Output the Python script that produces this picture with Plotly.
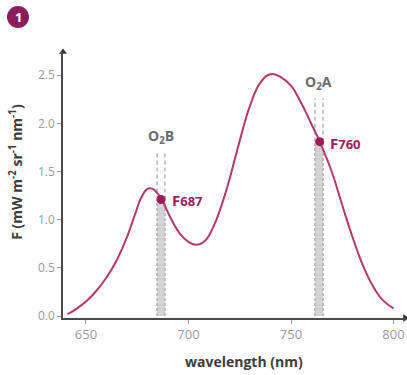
import plotly.graph_objects as go

# Fluorescence spectrum (wavelength in nm, F in mW m-2 sr-1 nm-1)
wavelength = [641, 645, 650, 655, 660, 665, 670, 674, 677, 680, 682.5, 685, 687, 691, 696,
              700, 704, 708, 712, 716, 720, 725, 730, 735, 740, 745, 750, 755, 760,
              764, 770, 775, 780, 785, 790, 795, 800]
flux = [0.02, 0.07, 0.15, 0.26, 0.40, 0.58, 0.82, 1.06, 1.23, 1.32, 1.32, 1.27, 1.21, 1.03, 0.85,
        0.77, 0.74, 0.78, 0.92, 1.14, 1.42, 1.82, 2.18, 2.42, 2.51, 2.48, 2.39, 2.21, 1.99,
        1.81, 1.49, 1.15, 0.82, 0.53, 0.31, 0.16, 0.08]

# Oxygen absorption bands: label, band edges, retrieval point
band_names = ["O<sub>2</sub>B", "O<sub>2</sub>A"]
band_lo = [684.7, 761.7]
band_hi = [688.5, 765.6]
point_wl = [686.6, 764.0]
point_f = [1.21, 1.81]
point_names = ["F", "F"]
point_bands = ["687", "760"]
dash_top = [1.70, 2.26]
name_y = [1.86, 2.42]

x_ticks = [650, 700, 750, 800]
y_ticks = [0.0, 0.5, 1.0, 1.5, 2.0, 2.5]
x_range = [638.8, 805.6]
y_range = [-0.02, 2.74]

CURVE = "#b3386b"
DOT = "#9e1b5b"
BADGE = "#8c1d5b"
AXIS = "#4a4a4a"
TICK = "#9a9a9a"
FONT = "Open Sans"

fig = go.Figure()

shapes = []
annotations = []
for lo, hi, pw, pf, top, nm, ny, pn, pb in zip(band_lo, band_hi, point_wl, point_f, dash_top,
                                               band_names, name_y, point_names, point_bands):
    # grey band under the retrieval point
    shapes.append(dict(type="rect", xref="x", yref="y", x0=lo, x1=hi, y0=0, y1=pf,
                       fillcolor="#d3d3d3", line=dict(width=0), layer="below"))
    for edge in (lo, hi):
        shapes.append(dict(type="line", xref="x", yref="y", x0=edge, x1=edge, y0=0, y1=pf,
                           line=dict(color="#bdbdbd", width=2, dash="3px,2px"), layer="below"))
        shapes.append(dict(type="line", xref="x", yref="y", x0=edge, x1=edge, y0=pf, y1=top,
                           line=dict(color="#b4b4b4", width=1.5, dash="4px,3px"), layer="below"))
    annotations.append(dict(x=(lo + hi) / 2, y=ny, xref="x", yref="y", text=nm, showarrow=False,
                            font=dict(family=FONT, size=14, color="#6a6a6a", weight="bold")))
    annotations.append(dict(x=hi + 2.6, y=pf, xref="x", yref="y",
                            text=f"{pn}<span style='font-size:13px'>{pb}</span>",
                            showarrow=False, xanchor="left", yanchor="middle", yshift=-1,
                            font=dict(family=FONT, size=15, color=DOT, weight="bold")))

fig.add_trace(go.Scatter(x=wavelength, y=flux, mode="lines",
                         line=dict(color=CURVE, width=2, shape="spline", smoothing=1.3),
                         hoverinfo="skip", showlegend=False))

fig.add_trace(go.Scatter(x=point_wl, y=point_f, mode="markers",
                         marker=dict(color=DOT, size=9), showlegend=False))

# arrowheads at the ends of both axes
fig.add_trace(go.Scatter(x=[x_range[0], x_range[1]], y=[y_range[1], y_range[0]], mode="markers",
                         marker=dict(symbol=["triangle-up", "triangle-right"], size=7,
                                     color="#333333"),
                         cliponaxis=False, showlegend=False, hoverinfo="skip"))

# badge in the upper-left corner
shapes.append(dict(type="circle", xref="paper", yref="paper", xsizemode="pixel",
                   ysizemode="pixel", xanchor=-45 / 342, yanchor=1 + 35 / 266,
                   x0=-11, x1=11, y0=-11, y1=11, fillcolor=BADGE, line=dict(width=0)))
annotations.append(dict(x=-45 / 342, y=1 + 35 / 266, xref="paper", yref="paper", text="1",
                        showarrow=False, xanchor="center", yanchor="middle",
                        font=dict(family=FONT, size=13, color="white", weight="bold")))

# axis titles
annotations.append(dict(x=-47 / 342, y=0.55, xref="paper", yref="paper",
                        text="F (mW m<sup>-2</sup> sr<sup>-1</sup> nm<sup>-1</sup>)",
                        textangle=-90, showarrow=False, xanchor="center", yanchor="middle",
                        font=dict(family=FONT, size=14, color="#3c3c3c", weight="bold")))
annotations.append(dict(x=0.53, y=-44 / 266, xref="paper", yref="paper",
                        text="wavelength (nm)", showarrow=False, xanchor="center",
                        yanchor="middle",
                        font=dict(family=FONT, size=14, color="#3c3c3c", weight="bold")))

fig.update_layout(
    width=407, height=375,
    margin=dict(l=63, r=2, t=52, b=57),
    paper_bgcolor="white", plot_bgcolor="white",
    shapes=shapes, annotations=annotations,
    xaxis=dict(range=x_range, tickvals=x_ticks, ticks="outside", ticklen=4, tickwidth=1,
               tickcolor=TICK, showline=True, linecolor=AXIS, linewidth=1.5,
               showgrid=False, zeroline=False,
               tickfont=dict(family=FONT, size=13, color=TICK)),
    yaxis=dict(range=y_range, tickvals=y_ticks, ticktext=[f"{v:.1f}" for v in y_ticks],
               ticks="outside", ticklen=4, tickwidth=1, tickcolor=TICK,
               showline=True, linecolor=AXIS, linewidth=1.5,
               showgrid=False, zeroline=False,
               tickfont=dict(family=FONT, size=12, color=TICK)),
)

fig.write_html("out.html")
